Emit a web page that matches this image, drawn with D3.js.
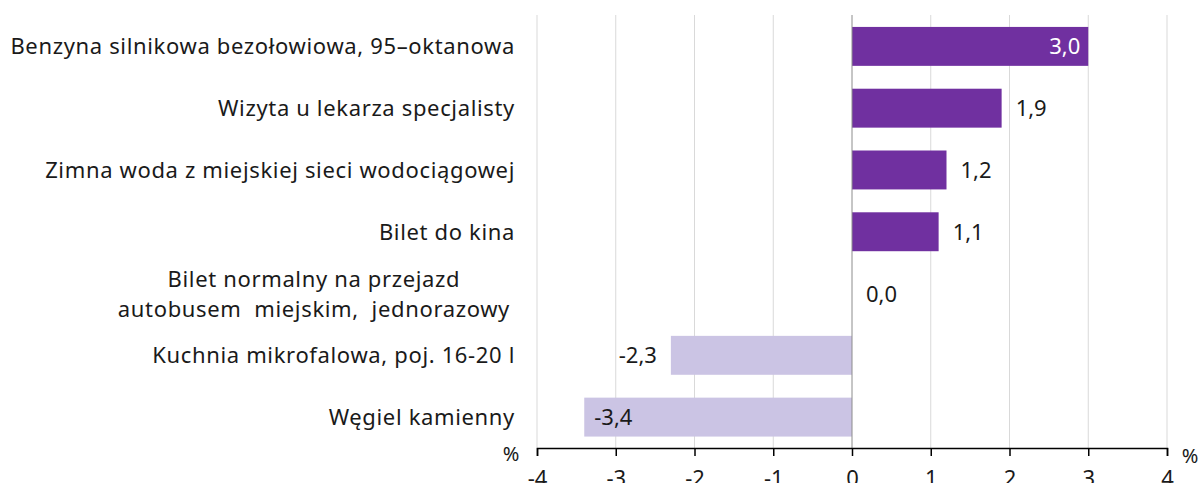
<!DOCTYPE html>
<html>
<head>
<meta charset="utf-8">
<script src="https://cdn.jsdelivr.net/npm/d3@7"></script>
<style>
  body { margin: 0; background: #fff; }
  svg text { font-family: "Noto Sans", sans-serif; fill: #1a1a1a; }
</style>
</head>
<body>
<svg id="chart" width="1200" height="483"></svg>
<script>
// categories, top to bottom
var categories = [
  ["Benzyna silnikowa bezołowiowa, 95–oktanowa"],
  ["Wizyta u lekarza specjalisty"],
  ["Zimna woda z miejskiej sieci wodociągowej"],
  ["Bilet do kina"],
  ["Bilet normalny na przejazd", "autobusem  miejskim,  jednorazowy"],
  ["Kuchnia mikrofalowa, poj. 16-20 l"],
  ["Węgiel kamienny"]
];
var values = [3.0, 1.9, 1.2, 1.1, 0.0, -2.3, -3.4];
var xTicks = [-4, -3, -2, -1, 0, 1, 2, 3, 4];

var svg = d3.select("#chart");
var x = d3.scaleLinear().domain([-4, 4]).range([537, 1167]);
var y = d3.scaleBand().domain(d3.range(values.length)).range([15.5, 448]).paddingInner(0.37).paddingOuter(0.185);
var fmt = function(v){ return d3.format(".1f")(v).replace(".", ",").replace("\u2212", "-"); };

//gridlines
svg.append("g").selectAll("line")
  .data(xTicks.filter(function(t){ return t !== 0; }))
  .enter().append("line")
  .attr("x1", function(d){ return x(d); }).attr("x2", function(d){ return x(d); })
  .attr("y1", 15).attr("y2", 448)
  .style("stroke", "#d9d9d9").style("stroke-width", "1px");

//bars
svg.append("g").selectAll("rect")
  .data(values).enter().append("rect")
  .attr("x", function(d){ return x(Math.min(0, d)); })
  .attr("y", function(d, i){ return y(i); })
  .attr("width", function(d){ return Math.abs(x(d) - x(0)); })
  .attr("height", y.bandwidth())
  .style("fill", function(d){ return d >= 0 ? "#7030a0" : "#cbc4e4"; });

//zero line
svg.append("line")
  .attr("x1", x(0)).attr("x2", x(0)).attr("y1", 15).attr("y2", 448)
  .style("stroke", "#8c8c8c").style("stroke-width", "1px");

//x axis
var axis = svg.append("g").attr("transform", "translate(0,448)")
  .call(d3.axisBottom(x).tickValues(xTicks).tickSize(8).tickPadding(14).tickFormat(function(d){ return d; }));
axis.select(".domain").style("stroke", "#000").style("stroke-width", "1.5px");
axis.selectAll(".tick line").style("stroke", "#000").style("stroke-width", "1.5px");
axis.selectAll(".tick text").style("font-size", "22px").style("fill", "#1a1a1a").attr("font-family", null);

svg.append("text").attr("x", 511).attr("y", 461).attr("text-anchor", "middle").style("font-size", "20px").text("%");
svg.append("text").attr("x", 1190).attr("y", 463).attr("text-anchor", "middle").style("font-size", "20px").text("%");

//category labels
var labels = svg.append("g").selectAll("text")
  .data(categories).enter().append("text")
  .style("font-size", "22px")
  .style("letter-spacing", "0.65px")
  .style("white-space", "pre")
  .attr("text-anchor", "end")
  .attr("x", 515)
  .attr("y", function(d, i){ return y(i) + y.bandwidth()/2 + 8 - (d.length - 1) * 15; });
labels.each(function(d){
  var t = d3.select(this);
  d.forEach(function(line, k){
    t.append("tspan").attr("x", 515).attr("dy", k === 0 ? 0 : 30).text(line);
  });
});
// centre the multi-line label on its longest line
labels.filter(function(d){ return d.length > 1; }).each(function(){
  var spans = d3.select(this).selectAll("tspan").nodes();
  var widths = spans.map(function(s){ return s.getComputedTextLength(); });
  var cx = 510 - d3.max(widths) / 2;
  d3.select(this).attr("text-anchor", "middle");
  spans.forEach(function(s){ d3.select(s).attr("x", cx); });
});

//value labels
svg.append("g").selectAll("text")
  .data(values).enter().append("text")
  .style("font-size", "22px")
  .attr("y", function(d, i){ return y(i) + y.bandwidth()/2 + 8; })
  .attr("x", function(d){
    if (d >= 2.5) return x(d) - 8;
    if (d >= 0) return x(d) + 14;
    if (d > -3) return x(d) - 14;
    return x(d) + 10;
  })
  .attr("text-anchor", function(d){ return (d >= 2.5 || (d < 0 && d > -3)) ? "end" : "start"; })
  .style("fill", function(d){ return d >= 2.5 ? "#ffffff" : "#1a1a1a"; })
  .text(function(d){ return fmt(d); });
</script>
</body>
</html>
